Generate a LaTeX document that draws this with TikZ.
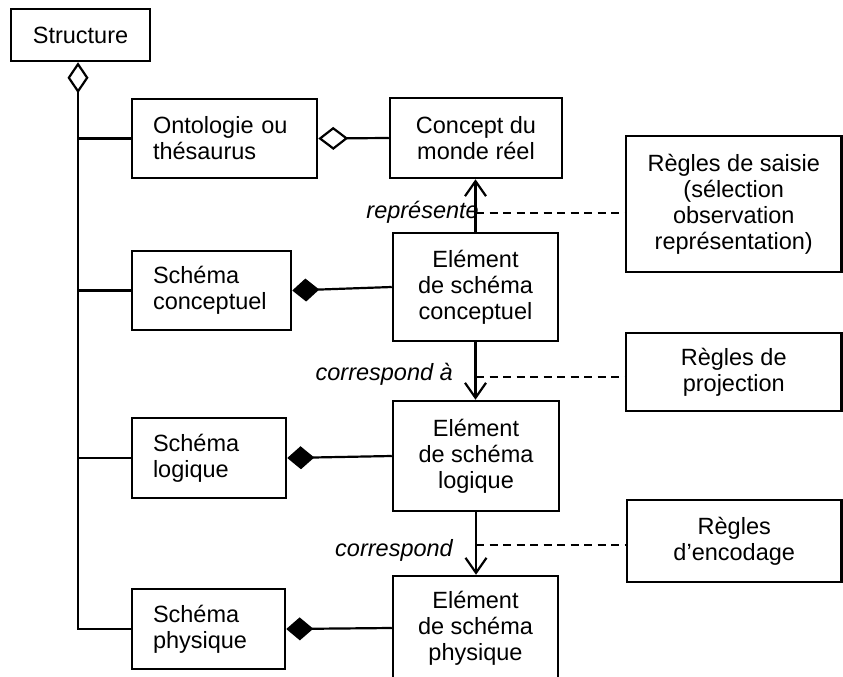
\documentclass[tikz,border=0pt]{standalone}
\usepackage{fontspec}
\setmainfont{Liberation Sans}
\usetikzlibrary{arrows.meta}
\begin{document}
\begin{tikzpicture}[x=1pt,y=-1pt,
  txt/.style={font=\fontsize{23.5}{26}\selectfont},
  box/.style={txt, draw, line width=2.5pt, inner sep=0pt, align=center},
  leftbox/.style={box, align=left},
  lbl/.style={font=\fontsize{23.5}{26}\selectfont\itshape, inner sep=0pt},
  link/.style={line width=2.2pt},
  odiam/.style={link, {Diamond[open,length=30pt,width=23pt]}-},
  fdiam/.style={link, {Diamond[length=27pt,width=23pt]}-},
  vlink/.style={link, -{Straight Barb[length=15pt,width=21pt]}},
  guide/.style={line width=1.5pt, dash pattern=on 8pt off 5.5pt}
]
\useasboundingbox (0,0) rectangle (843,677);
\fill[white] (0,0) rectangle (843,677);
\clip (0,0) rectangle (843,677);

% root of the structure
\node[box, minimum width=139pt, minimum height=52pt] (struct) at (80.5,35) {Structure};

% schema levels (left column)
\node[leftbox, text width=143pt, minimum width=185pt, minimum height=79pt] (onto) at (224.5,138.5) {Ontologie ou\\thésaurus};
\node[leftbox, text width=117pt, minimum width=159pt, minimum height=79pt] (scon) at (211.5,290.5) {Schéma\\conceptuel};
\node[leftbox, text width=112pt, minimum width=154pt, minimum height=80pt] (slog) at (209,458) {Schéma\\logique};
\node[leftbox, text width=111pt, minimum width=153pt, minimum height=80pt] (sphy) at (208.5,629) {Schéma\\physique};

% elements (middle column)
\node[box, minimum width=172pt, minimum height=80pt] (concept) at (476,138) {Concept du\\monde réel};
\node[box, minimum width=165pt, minimum height=108pt] (econ) at (475.5,287) {Elément\\de schéma\\conceptuel};
\node[box, minimum width=166pt, minimum height=110pt] (elog) at (476,456) {Elément\\de schéma\\logique};
\node[box, minimum width=165pt, minimum height=104pt] (ephy) at (475.5,628) {Elément\\de schéma\\physique};

% rules (right column)
\node[box, minimum width=215.5pt, minimum height=136pt] (saisie) at (733.75,204) {Règles de saisie\\(sélection\\observation\\représentation)};
\node[box, minimum width=215.5pt, minimum height=78pt] (proj) at (733.75,372) {Règles de\\projection};
\node[box, minimum width=214.5pt, minimum height=82pt] (enc) at (734.25,541) {Règles\\d’encodage};

% aggregation trunk
\coordinate (tk) at (78,629);
\draw[link, {Diamond[open,length=31pt,width=21pt]}-] (struct.south -| tk) -- (tk) -- (sphy.west);
\draw[link] (onto.west) -- (onto.west -| tk);
\draw[link] (scon.west) -- (scon.west -| tk);
\draw[link] (slog.west) -- (slog.west -| tk);

% aggregation / composition links
\draw[odiam] (onto.east) -- (concept.west);
\draw[fdiam] (scon.east) -- (econ.west);
\draw[fdiam] (slog.east) -- (elog.west);
\draw[fdiam] (sphy.east) -- (ephy.west);

% mapping arrows between elements
\draw[vlink] (econ.north) -- (econ.north |- concept.south);
\draw[vlink] (econ.south) -- (econ.south |- elog.north);
\draw[vlink] (elog.south) -- (elog.south |- ephy.north);

% arrow labels
\node[lbl, anchor=base east] (rep) at (479,218) {représente};
\node[lbl, anchor=base east] (corra) at (453,380) {correspond à};
\node[lbl, anchor=base east] (corr) at (453,556) {correspond};

% dashed links to the rules
\coordinate (d1) at (476,213);
\coordinate (d2) at (476,377);
\coordinate (d3) at (476,545);
\draw[guide] (d1) -- (d1 -| saisie.west);
\draw[guide] (d2) -- (d2 -| proj.west);
\draw[guide] (d3) -- (d3 -| enc.west);
\end{tikzpicture}
\end{document}
